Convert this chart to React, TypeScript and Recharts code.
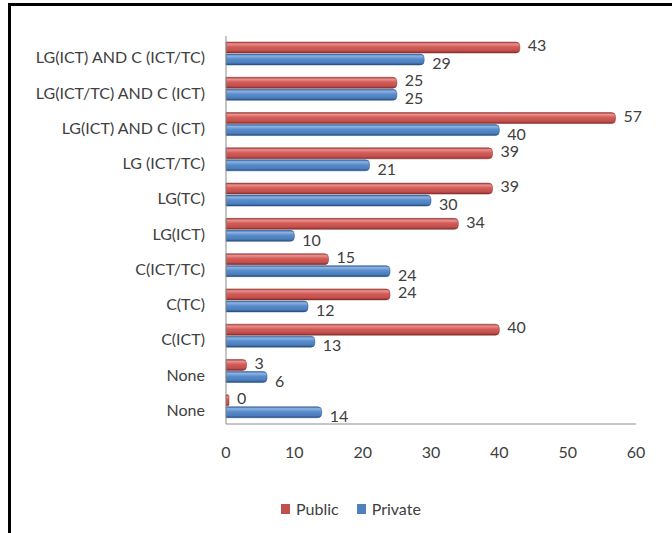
import { BarChart, Bar, XAxis, YAxis, LabelList } from 'recharts';

const categories = [
  'LG(ICT) AND C (ICT/TC)',
  'LG(ICT/TC) AND C (ICT)',
  'LG(ICT) AND C (ICT)',
  'LG (ICT/TC)',
  'LG(TC)',
  'LG(ICT)',
  'C(ICT/TC)',
  'C(TC)',
  'C(ICT)',
  'None',
  'None ',
];
const publicValues = [43, 25, 57, 39, 39, 34, 15, 24, 40, 3, 0];
const privateValues = [29, 25, 40, 21, 30, 10, 24, 12, 13, 6, 14];
const xTicks = [0, 10, 20, 30, 40, 50, 60];

const data = categories.map((name, i) => ({
  name,
  Public: publicValues[i],
  Private: privateValues[i],
}));

const font = 'Lato, "Open Sans", sans-serif';
const textColor = '#404040';

export default function App() {
  return (
    <div style={{ position: 'absolute', left: 0, top: 0, width: 672, height: 533, background: '#fff', overflow: 'hidden', fontFamily: font }}>
      <div style={{ position: 'absolute', left: 8, top: 3, width: 700, height: 600, borderTop: '3px solid #000', borderLeft: '3px solid #000' }} />
      <div style={{ position: 'absolute', left: 0, top: 0 }}>
        <BarChart
          width={672}
          height={533}
          data={data}
          layout="vertical"
          margin={{ top: 36, right: 36, left: 0, bottom: 79 }}
          barSize={11}
          barGap={1}
        >
          <defs>
            <linearGradient id="redGrad" x1="0" y1="0" x2="0" y2="1">
              <stop offset="0" stopColor="#a43d3a" />
              <stop offset="0.18" stopColor="#e8918e" />
              <stop offset="0.45" stopColor="#d45b57" />
              <stop offset="0.8" stopColor="#c0504d" />
              <stop offset="1" stopColor="#7d2a28" />
            </linearGradient>
            <linearGradient id="blueGrad" x1="0" y1="0" x2="0" y2="1">
              <stop offset="0" stopColor="#3567a3" />
              <stop offset="0.18" stopColor="#8cb3e3" />
              <stop offset="0.45" stopColor="#5a8ccb" />
              <stop offset="0.8" stopColor="#4a7dbb" />
              <stop offset="1" stopColor="#234a7c" />
            </linearGradient>
          </defs>
          <XAxis
            type="number"
            domain={[0, 60]}
            ticks={xTicks}
            axisLine={{ stroke: '#8c8c8c' }}
            tickLine={false}
            tickSize={0}
            tickMargin={23}
            height={30}
            tick={{ fill: textColor, fontSize: 16, fontFamily: font }}
          />
          <YAxis
            type="category"
            dataKey="name"
            width={226}
            axisLine={{ stroke: '#8c8c8c' }}
            tickLine={false}
            tickSize={0}
            tickMargin={21}
            interval={0}
            tick={{ fill: textColor, fontSize: 16, fontFamily: font, dy: 4 }}
          />
          <Bar dataKey="Public" fill="url(#redGrad)" stroke="#8c3230" strokeWidth={0.5} radius={[0, 4, 4, 0]} minPointSize={3} isAnimationActive={false}>
            <LabelList dataKey="Public" position="right" offset={8} dy={-2} style={{ fill: textColor, fontSize: 16, fontFamily: font }} />
          </Bar>
          <Bar dataKey="Private" fill="url(#blueGrad)" stroke="#2c558a" strokeWidth={0.5} radius={[0, 4, 4, 0]} isAnimationActive={false}>
            <LabelList dataKey="Private" position="right" offset={8} dy={4} style={{ fill: textColor, fontSize: 16, fontFamily: font }} />
          </Bar>
        </BarChart>
      </div>
      <div style={{ position: 'absolute', top: 499, left: 281, display: 'flex', alignItems: 'center', fontSize: 16, color: textColor, whiteSpace: 'nowrap' }}>
        <span style={{ display: 'inline-block', width: 9, height: 10, background: '#c0504d', marginRight: 6 }} />
        <span style={{ marginRight: 18 }}>Public</span>
        <span style={{ display: 'inline-block', width: 9, height: 10, background: '#4f81bd', marginRight: 6 }} />
        <span>Private</span>
      </div>
    </div>
  );
}
